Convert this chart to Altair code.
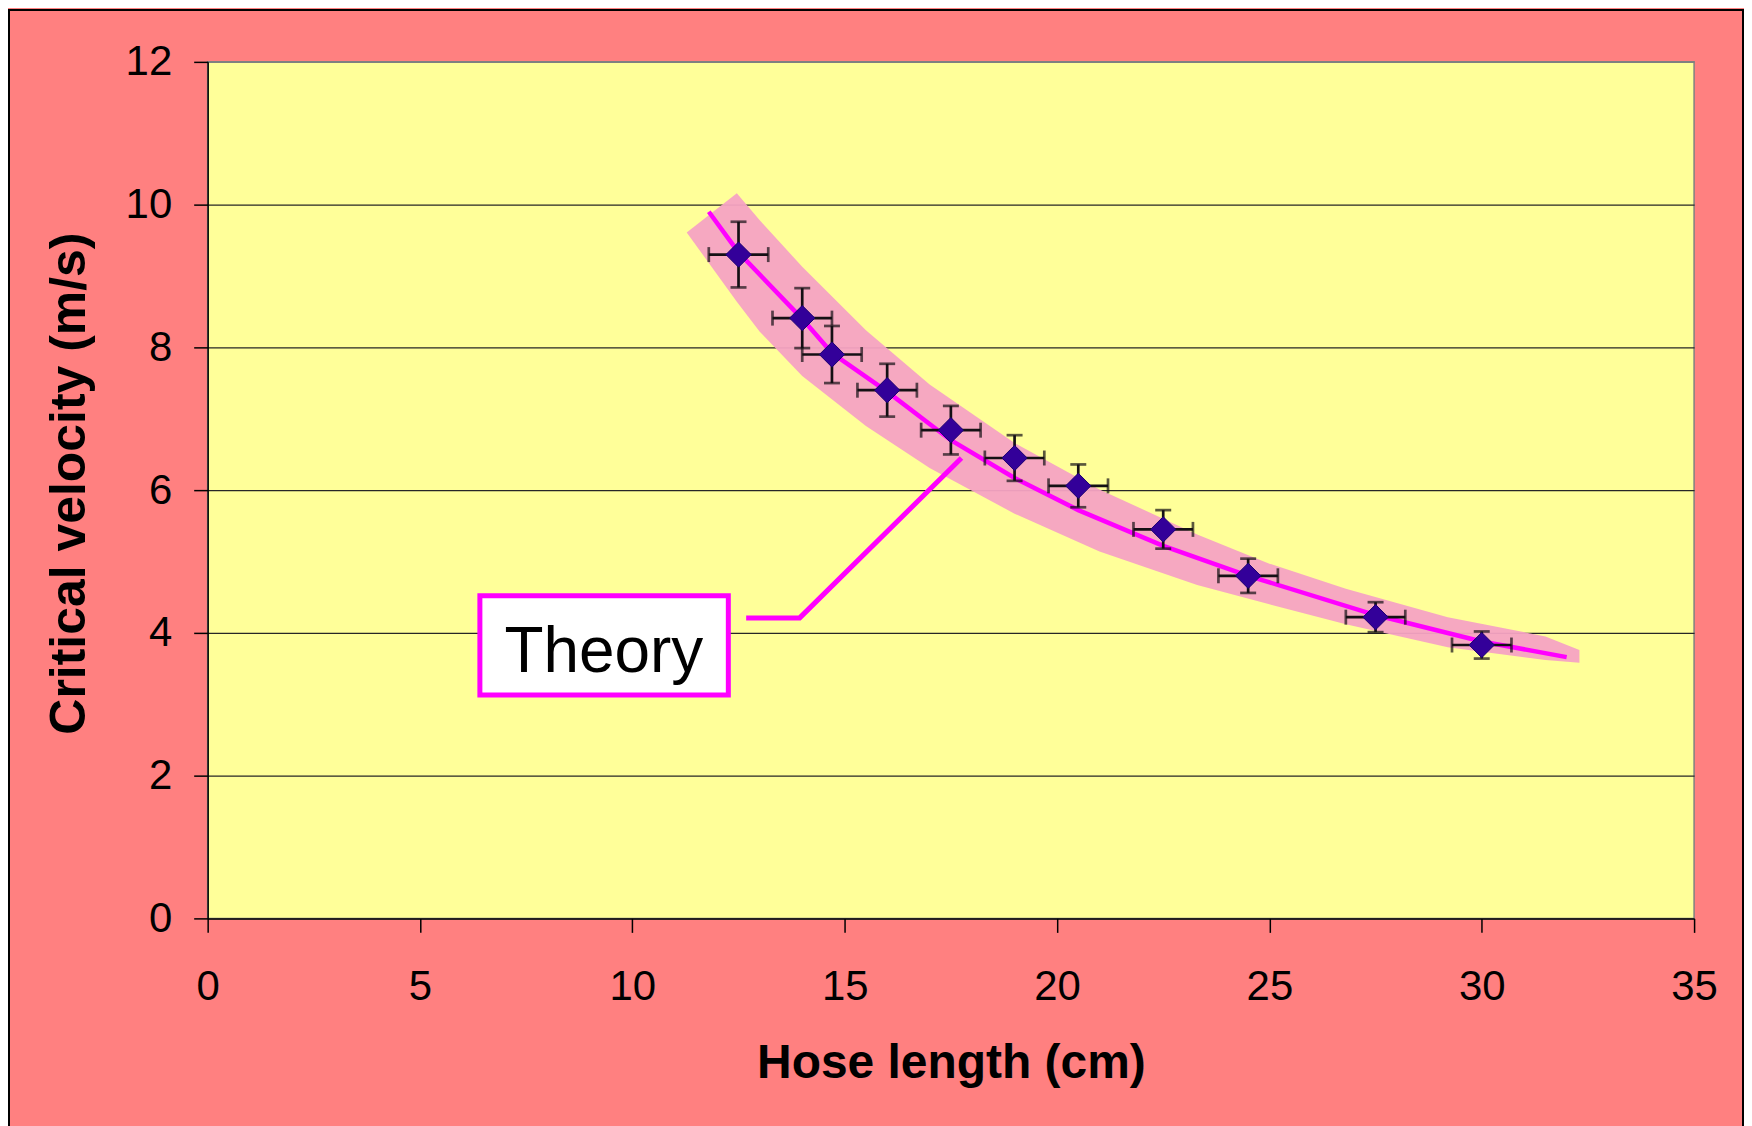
import altair as alt
import pandas as pd

# ---- data ----
hose_length = [12.5, 14.0, 14.7, 16.0, 17.5, 19.0, 20.5, 22.5, 24.5, 27.5, 30.0]
velocity = [9.30, 8.41, 7.90, 7.40, 6.84, 6.45, 6.06, 5.45, 4.80, 4.22, 3.83]
velocity_err = [0.46, 0.42, 0.40, 0.37, 0.34, 0.32, 0.30, 0.27, 0.24, 0.21, 0.19]
length_err = [0.7, 0.7, 0.7, 0.7, 0.7, 0.7, 0.7, 0.7, 0.7, 0.7, 0.7]

theory_length = [11.8, 12.5, 14.0, 14.7, 16.0, 17.5, 19.0, 20.5, 22.5, 24.5, 27.5, 30.0, 32.0]
theory_velocity = [9.90, 9.33, 8.40, 7.92, 7.38, 6.70, 6.17, 5.72, 5.22, 4.80, 4.25, 3.88, 3.66]

band_length = [11.28, 12.46, 13.0, 14.0, 15.5, 17.0, 19.0, 21.0, 23.3, 25.0, 26.8, 29.2, 31.5, 32.3]
band_upper = [9.61, 10.16, 9.78, 9.13, 8.24, 7.48, 6.66, 6.01, 5.38, 4.97, 4.62, 4.22, 3.95, 3.76]
band_lower = [9.61, 8.64, 8.22, 7.60, 6.90, 6.31, 5.67, 5.14, 4.67, 4.40, 4.12, 3.80, 3.62, 3.58]

label_text = "Theory"
label_box_length = [6.41, 12.26]
label_box_velocity = [3.13, 4.52]
label_text_pos = [9.33, 3.45]
leader_length = [12.68, 13.94, 17.75]
leader_velocity = [4.21, 4.21, 6.45]

x_ticks = [0, 5, 10, 15, 20, 25, 30, 35]
y_ticks = [0, 2, 4, 6, 8, 10, 12]

# ---- tables ----
pts = pd.DataFrame({
    "x": hose_length, "y": velocity,
    "ylo": [v - e for v, e in zip(velocity, velocity_err)],
    "yhi": [v + e for v, e in zip(velocity, velocity_err)],
    "xlo": [l - e for l, e in zip(hose_length, length_err)],
    "xhi": [l + e for l, e in zip(hose_length, length_err)],
})
theory = pd.DataFrame({"x": theory_length, "y": theory_velocity})
band = pd.DataFrame({"x": band_length, "y": band_upper, "y2": band_lower})
box = pd.DataFrame({"x": [label_box_length[0]], "x2": [label_box_length[1]],
                    "y": [label_box_velocity[0]], "y2": [label_box_velocity[1]]})
txt = pd.DataFrame({"x": [label_text_pos[0]], "y": [label_text_pos[1]], "t": [label_text]})
leader = pd.DataFrame({"x": leader_length, "y": leader_velocity, "o": list(range(len(leader_length)))})

FONT = "Liberation Sans"
W, H = 1489, 858

xscale = alt.Scale(domain=[0, 35], nice=False, zero=False)
yscale = alt.Scale(domain=[0, 12], nice=False, zero=False)

xaxis = alt.Axis(
    title="Hose length (cm)", values=x_ticks, grid=False,
    tickSize=14, tickColor="black", tickWidth=1.5,
    domainColor="black", domainWidth=1.5,
    labelFont=FONT, labelFontSize=42, labelColor="black",
    labelPadding=67, labelBaseline="alphabetic", labelFlush=False, labelOverlap=False,
    titleFont=FONT, titleFontSize=48, titleFontWeight="bold", titleColor="black",
    titleY=159, titleBaseline="alphabetic",
)
yaxis = alt.Axis(
    title="Critical velocity (m/s)", values=y_ticks, grid=True,
    gridColor={"condition": {"test": "datum.value === 12 || datum.value === 0", "value": "#808080"},
               "value": "#262626"},
    gridWidth=1.2,
    tickSize=14, tickColor="black", tickWidth=1.5,
    domainColor="black", domainWidth=1.5,
    labelFont=FONT, labelFontSize=42, labelColor="black",
    labelPadding=22, labelFlush=False, labelOverlap=False,
    titleFont=FONT, titleFontSize=50, titleFontWeight="bold", titleColor="black",
    titleX=-123, titleY=422, titleBaseline="alphabetic", titleAlign="center", titleAngle=270,
)

X = alt.X("x:Q", scale=xscale, axis=xaxis)
Y = alt.Y("y:Q", scale=yscale, axis=yaxis)

band_layer = alt.Chart(band).mark_area(fill="#F5A3C3", opacity=0.95, interpolate="linear").encode(
    x=X, y=Y, y2="y2:Q")

theory_layer = alt.Chart(theory).mark_line(color="#FF00FF", strokeWidth=4.5).encode(x=X, y=Y)

leader_layer = alt.Chart(leader).mark_line(color="#FF00FF", strokeWidth=5, strokeCap="butt").encode(
    x=X, y=Y, order="o:Q")

box_layer = alt.Chart(box).mark_rect(fill="white", stroke="#FF00FF", strokeWidth=5).encode(
    x=X, x2="x2:Q", y=Y, y2="y2:Q")

text_layer = alt.Chart(txt).mark_text(font=FONT, fontSize=64, color="black",
                                      align="center", baseline="alphabetic").encode(
    x=X, y=Y, text="t:N")

EB = "#141014"
vbar = alt.Chart(pts).mark_rule(color=EB, strokeWidth=2.7).encode(
    x=X, y=alt.Y("ylo:Q", scale=yscale, axis=yaxis), y2="yhi:Q")
hbar = alt.Chart(pts).mark_rule(color=EB, strokeWidth=2.7).encode(
    x=alt.X("xlo:Q", scale=xscale, axis=xaxis), x2="xhi:Q", y=Y)
ycap_lo = alt.Chart(pts).mark_tick(color=EB, orient="horizontal", size=16, thickness=2.7).encode(
    x=X, y=alt.Y("ylo:Q", scale=yscale, axis=yaxis))
ycap_hi = alt.Chart(pts).mark_tick(color=EB, orient="horizontal", size=16, thickness=2.7).encode(
    x=X, y=alt.Y("yhi:Q", scale=yscale, axis=yaxis))
xcap_lo = alt.Chart(pts).mark_tick(color=EB, orient="vertical", size=15, thickness=2.7).encode(
    x=alt.X("xlo:Q", scale=xscale, axis=xaxis), y=Y)
xcap_hi = alt.Chart(pts).mark_tick(color=EB, orient="vertical", size=15, thickness=2.7).encode(
    x=alt.X("xhi:Q", scale=xscale, axis=xaxis), y=Y)

diamonds = alt.Chart(pts).mark_point(shape="diamond", filled=True, size=640,
                                     fill="#330099", stroke="#1a0070", strokeWidth=1,
                                     opacity=1).encode(x=X, y=Y)

frame = alt.Chart(pd.DataFrame({"k": [0]})).mark_rect(
    fill="transparent", stroke="black", strokeWidth=2).encode(
    x=alt.value(-199), x2=alt.value(W + 49), y=alt.value(-52), y2=alt.value(H + 300))

chart = alt.layer(
    band_layer, theory_layer, leader_layer, box_layer, text_layer,
    vbar, hbar, ycap_lo, ycap_hi, xcap_lo, xcap_hi, diamonds, frame
).properties(
    width=W, height=H,
    background="#FF8080",
    padding={"left": 200, "top": 53, "right": 50, "bottom": 207},
    autosize=alt.AutoSizeParams(type="none"),
).configure_view(
    fill="#FFFF99", stroke="#808080", strokeWidth=1.5,
)

chart.save("out.html", embed_options={"renderer": "svg", "actions": False})
